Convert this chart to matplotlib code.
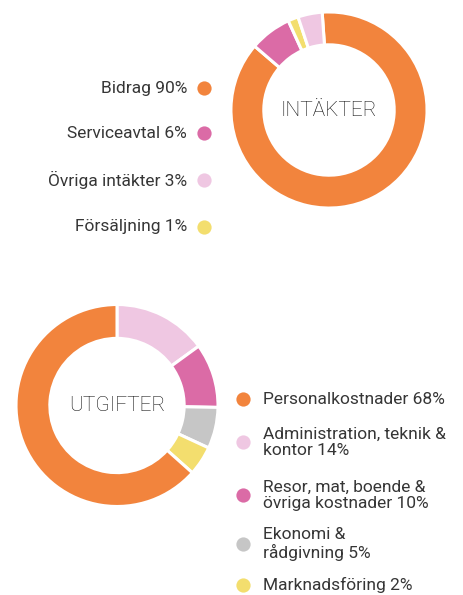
import matplotlib
matplotlib.use("Agg")
import matplotlib.pyplot as plt

W, H = 463, 595

# ---- data (slice shares as drawn) ----
income_labels = ["Bidrag 90%", "Serviceavtal 6%", "Övriga intäkter 3%", "Försäljning 1%"]
income_colors = ["#F2843D", "#DB6BA6", "#EFC7E2", "#F3DE6E"]
# drawn clockwise from top: Bidrag, Serviceavtal, Försäljning, Övriga
income_order = [0, 1, 3, 2]
income_values = [87.4, 6.9, 4.0, 1.7]

cost_labels = ["Personalkostnader 68%", "Administration, teknik &\nkontor 14%",
               "Resor, mat, boende &\növriga kostnader 10%", "Ekonomi &\nrådgivning 5%",
               "Marknadsföring 2%"]
cost_colors = ["#F2843D", "#EFC7E2", "#DB6BA6", "#C6C6C6", "#F3DE6E"]
cost_values = [63.4, 15.0, 10.3, 6.6, 4.7]
# drawn clockwise from top: Administration, Resor, Ekonomi, Marknadsföring, Personal
cost_order = [1, 2, 3, 4, 0]

FONT = "Roboto"
TXT = "#363636"

fig = plt.figure(figsize=(W / 100, H / 100), dpi=100)


def px_axes(cx, cy, r):
    return fig.add_axes([(cx - r) / W, (H - cy - r) / H, 2 * r / W, 2 * r / H])


def donut(ax, values, colors, order, start):
    ax.pie([values[i] for i in order], colors=[colors[i] for i in order],
           startangle=start, counterclock=False, radius=1,
           wedgeprops=dict(width=0.335, edgecolor="white", linewidth=2.2))
    ax.set_xlim(-1.02, 1.02)
    ax.set_ylim(-1.02, 1.02)
    ax.set_aspect("equal")
    ax.axis("off")


ax1 = px_axes(329, 110, 100)
donut(ax1, income_values, income_colors, income_order, 94)
ax1.text(0, 0, "INTÄKTER", ha="center", va="center", fontsize=15,
         family=FONT, fontweight="light", color="#111111")

ax2 = px_axes(117, 405.5, 103)
donut(ax2, cost_values, cost_colors, cost_order, 90)
ax2.text(0, 0, "UTGIFTER", ha="center", va="center", fontsize=15,
         family=FONT, fontweight="light", color="#111111")

# overlay for legends in pixel coordinates
ov = fig.add_axes([0, 0, 1, 1])
ov.set_xlim(0, W)
ov.set_ylim(H, 0)
ov.axis("off")
ov.patch.set_alpha(0)

inc_y = [88, 133, 180, 227]
for lab, col, y in zip(income_labels, income_colors, inc_y):
    ov.scatter([204], [y], s=105, color=col, linewidths=0)
    ov.text(187, y, lab, ha="right", va="center", fontsize=12.5,
            family=FONT, color=TXT)

cost_y = [399, 442, 495, 544, 585]
for lab, col, y in zip(cost_labels, cost_colors, cost_y):
    ov.scatter([243], [y], s=105, color=col, linewidths=0)
    ov.text(263, y, lab, ha="left", va="center", fontsize=12.5,
            family=FONT, color=TXT, linespacing=1.1)

fig.savefig("out.png", dpi=100)
